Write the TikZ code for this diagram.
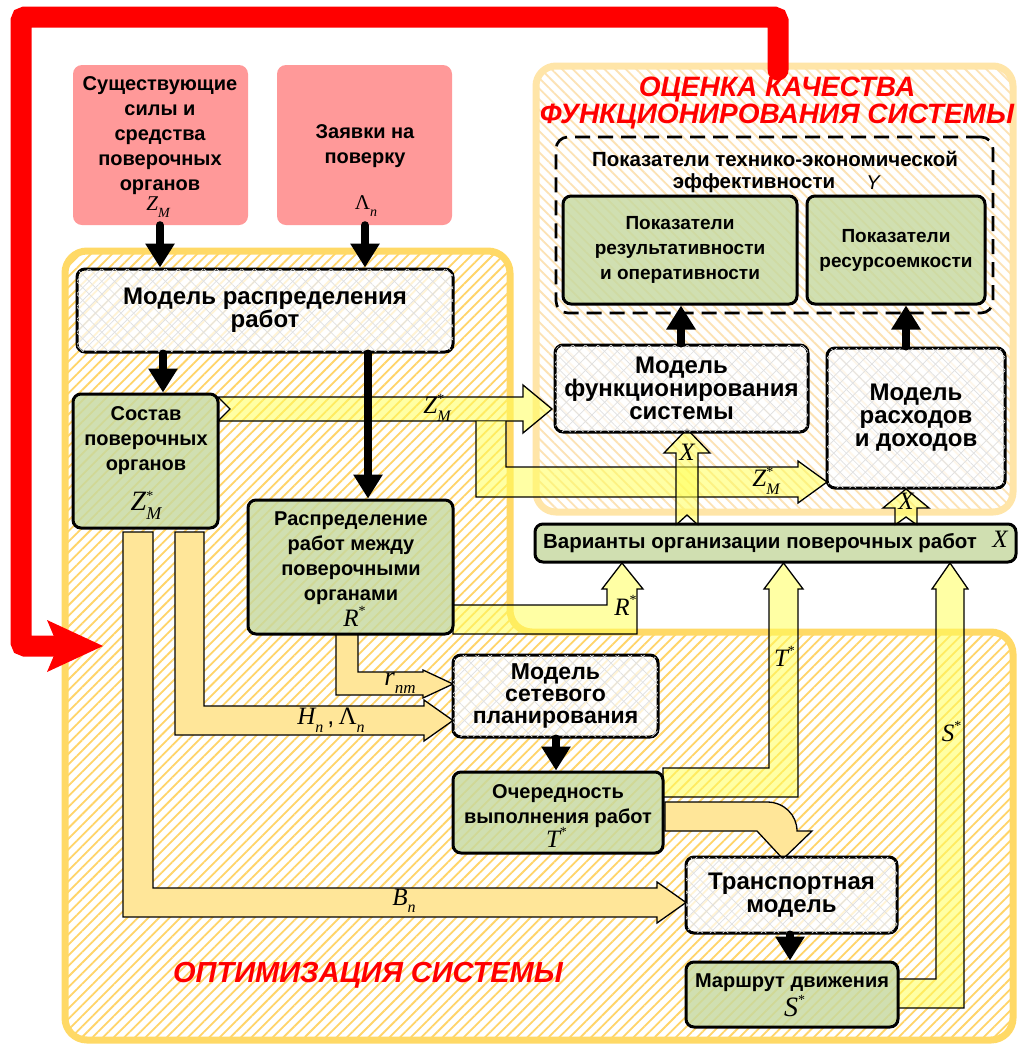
\documentclass[tikz,border=0pt]{standalone}
\usepackage[no-math]{fontspec}
\setmainfont{Liberation Sans}
\newfontfamily\tms{Liberation Serif}
\usetikzlibrary{arrows.meta,patterns.meta}
\definecolor{hatchL}{RGB}{255,212,105}
\definecolor{borderL}{RGB}{255,217,102}
\definecolor{borderR}{RGB}{255,229,168}
\definecolor{hatchR}{RGB}{252,226,180}
\definecolor{pinkbox}{RGB}{255,153,153}
\definecolor{greenbox}{RGB}{198,217,160}
\definecolor{arrY}{RGB}{255,255,90}
\definecolor{arrO}{RGB}{255,230,153}
\definecolor{redline}{RGB}{255,0,0}
\newcommand{\fsz}[2]{\fontsize{#1}{#2}\selectfont}
\newcommand{\bx}[7]{\node[#1, minimum width={(#5-#3)*1pt}, minimum height={(#6-#4)*1pt}] (#2) at ({(#3+#5)/2},{(#4+#6)/2}) {#7};}
% symbol: base letter (italic), superscript, subscript (italic)
\newcommand{\subsz}{16}
\newcommand{\supsz}{14}
\newcommand{\vv}[3]{{\tms\itshape #1}\rlap{\raisebox{0.42em}{\tms\fsz{\supsz}{\supsz}#2}}\raisebox{-0.3em}{\tms\itshape\fsz{\subsz}{\subsz}#3}}
\newcommand{\vs}[3]{{\tms\itshape #1}\raisebox{-0.33em}{\renewcommand{\arraystretch}{0.7}\tms\begin{tabular}[b]{@{}l@{}}\fsz{\supsz}{\supsz}#2\\\fsz{\subsz}{\subsz}\itshape #3\end{tabular}}}
\newcommand{\vg}[2]{{\tms #1}\raisebox{-0.3em}{\tms\itshape\fsz{\subsz}{\subsz}#2}}
\tikzset{
  box/.style={rectangle, rounded corners=8pt, line width=3pt, draw=black, align=center, inner sep=0pt, text opacity=1},
  wbox/.style={box, fill=white, fill opacity=0.72, font=\bfseries\fsz{24}{23},
    postaction={pattern={Lines[angle=45,distance=9pt,line width=0.7pt]}, pattern color=black!12},
    postaction={pattern={Lines[angle=-45,distance=9pt,line width=0.7pt]}, pattern color=black!12}},
  gbox/.style={box, fill=greenbox, fill opacity=0.82, font=\bfseries\fsz{19}{25}},
  pbox/.style={rectangle, rounded corners=9pt, fill=pinkbox, inner sep=0pt},
  txt/.style={align=center, inner sep=0pt, font=\bfseries\fsz{20}{25}},
  sym/.style={inner sep=0pt, font=\fsz{25}{25}},
  bigsym/.style={inner sep=0pt, font=\fsz{28}{28}\renewcommand{\subsz}{18}},
  smallsym/.style={inner sep=0pt, font=\fsz{21}{21}\renewcommand{\subsz}{14}},
  blk/.style={line width=8pt, line cap=round, -{Triangle[width=28pt,length=24pt]}},
  ya/.style={fill=arrY, fill opacity=0.55, draw=black, line width=1.3pt},
  yo/.style={fill=arrO, draw=black, line width=1.3pt},
  redt/.style={text=redline, font=\bfseries\itshape\fsz{28}{25}, align=center, inner sep=0pt}
}
\begin{document}
\begin{tikzpicture}[x=1pt,y=-1pt]
\fill[white] (0,0) rectangle (1018,1045);
\useasboundingbox (0,0) rectangle (1018,1045);
% regions
\draw[draw=borderL, line width=7pt, rounded corners=22pt, pattern={Lines[angle=45,distance=7.5pt,line width=1.8pt]}, pattern color=hatchL]
  (65,251) -- (510,251) -- (510,632) -- (1013,632) -- (1013,1040) -- (65,1040) -- cycle;
\draw[draw=borderR, line width=7pt, rounded corners=20pt, pattern={Lines[angle=-45,distance=7.5pt,line width=1.8pt]}, pattern color=hatchR]
  (536,66) rectangle (1013,512);
% red feedback
\coordinate (redstart) at (778,70);
\coordinate (redtip) at (103,646);
\draw[redline, line width=21pt, line cap=round, rounded corners=4pt] (redstart) -- (778,17) -- (21,17) -- (21,646) -- (60,646);
\fill[redline] (redtip) -- (47,620) -- (58,646) -- (47,672) -- cycle;
% wide arrows (yellow)
\filldraw[ya] (218,397) -- (523,397) -- (523,385) -- (552,409) -- (523,433) -- (523,421) -- (218,421) -- (230,409) -- cycle;
\fill[arrY, fill opacity=0.55] (476,421) -- (476,497) -- (798,497) -- (798,503) -- (827,482) -- (798,461) -- (798,467) -- (506,467) -- (506,421) -- cycle;
\draw[black, line width=1.3pt] (476,421) -- (476,497) -- (798,497) -- (798,503) -- (827,482) -- (798,461) -- (798,467) -- (506,467) -- (506,421);
\filldraw[ya] (676,525) -- (676,453) -- (664,453) -- (687,429) -- (710,453) -- (698,453) -- (698,525) -- (687,515) -- cycle;
\filldraw[ya] (895,525) -- (895,508) -- (883,508) -- (906,489) -- (929,508) -- (917,508) -- (917,525) -- (906,517) -- cycle;
\filldraw[ya] (453,605) -- (607,605) -- (607,589) -- (602,589) -- (622,563) -- (643,589) -- (637,589) -- (637,634) -- (453,634) -- cycle;
\filldraw[ya] (663,768) -- (769,768) -- (769,589) -- (764,589) -- (783.5,563) -- (803,589) -- (798,589) -- (798,797) -- (663,797) -- cycle;
\filldraw[ya] (898,979) -- (936,979) -- (936,589) -- (932,589) -- (950,563) -- (968,589) -- (964,589) -- (964,1008) -- (898,1008) -- cycle;
% wide arrows (orange)
\filldraw[yo] (336,634) -- (336,695) -- (423,695) -- (423,698) -- (453,684) -- (423,670) -- (423,672) -- (358,672) -- (358,634) -- cycle;
\filldraw[yo] (175,532) -- (175,735) -- (424,735) -- (424,741) -- (453,720.5) -- (424,700) -- (424,706) -- (204,706) -- (204,532) -- cycle;
\filldraw[yo] (123,532) -- (123,917) -- (657,917) -- (657,923) -- (686,902.5) -- (657,882) -- (657,888) -- (153,888) -- (153,532) -- cycle;
\filldraw[yo] (665,802) -- (767,802) .. controls (784,802) and (797,815) .. (797,831) -- (812,831) -- (783,859) -- (757,831) -- (665,831) -- cycle;
% boxes
\bx{pbox}{pink1}{73}{65}{248}{225}{}
\bx{pbox}{pink2}{277}{65}{452}{225}{}
\bx{wbox}{modrasp}{77}{269}{453}{352}{Модель распределения\\работ}
\bx{gbox}{sostav}{73}{394}{218}{528}{}
\bx{gbox}{raspr}{248}{500}{453}{634}{}
\bx{wbox, font=\bfseries\fsz{23}{22}}{setevoe}{453}{655}{658}{737}{Модель\\сетевого\\планирования}
\bx{gbox}{ochered}{453}{772}{663}{853}{}
\bx{wbox}{transp}{686}{857}{897}{933}{Транспортная\\модель}
\bx{gbox}{marsh}{686}{962}{898}{1027}{}
\bx{wbox}{funk}{555}{345}{808}{432}{Модель\\функционирования\\системы}
\bx{wbox}{rashod}{827}{348}{1005}{488}{Модель\\расходов\\и доходов}
\node[rectangle, draw=black, dash pattern=on 15pt off 8pt, line width=2.7pt, rounded corners=12pt, minimum width=437pt, minimum height=176pt, inner sep=0pt] (dashbox) at (774.5,225) {};
\bx{gbox}{res1}{563}{196}{797}{304}{Показатели\\результативности\\и оперативности}
\bx{gbox}{res2}{807}{196}{985}{304}{Показатели\\ресурсоемкости}
\bx{gbox}{var}{535}{524}{1016}{562}{}
% texts
\node[txt] (pink1t) at (160,135.5) {Существующие\\силы и\\средства\\поверочных\\органов};
\node[smallsym] (pink1s) at (158,207) {\vv{Z}{}{M}};
\node[txt] (pink2t) at (365,146) {Заявки на\\поверку};
\node[smallsym] (pink2s) at (366,206) {\vg{Λ}{n}};
\node[txt] (sostavt) at (146,441) {Состав\\поверочных\\органов};
\node[bigsym] (sostavs) at (146,506) {\vs{Z}{*}{M}};
\node[txt] (rasprt) at (351,558) {Распределение\\работ между\\поверочными\\органами};
\node[sym] (rasprs) at (351,620) {\vv{R}{*}{}};
\node[txt] (ocheredt) at (558,806) {Очередность\\выполнения работ};
\node[sym] (ochereds) at (553,841) {\vv{T}{*}{}};
\node[txt] (marsht) at (792,983) {Маршрут движения};
\node[bigsym] (marshs) at (791,1010) {\vv{S}{*}{}};
\node[txt, font=\bfseries\fsz{20.5}{25}] (vart) at (760,543) {Варианты организации поверочных работ};
\node[sym] (vars) at (1000,543) {\vv{X}{}{}};
\node[txt, font=\bfseries\fsz{20.5}{24}] (dasht1) at (775,159) {Показатели технико-экономической};
\node[txt, font=\bfseries\fsz{20.5}{24}] (dasht2) at (754,183) {эффективности};
\node[txt, font=\itshape\fsz{20}{24}] (dashy) at (873,183) {Y};
\node[redt] (titleR) at (777,103) {ОЦЕНКА КАЧЕСТВА\\ФУНКЦИОНИРОВАНИЯ СИСТЕМЫ};
\node[redt, font=\bfseries\itshape\fsz{29}{25}] (titleL) at (368,975) {ОПТИМИЗАЦИЯ СИСТЕМЫ};
% arrow labels
\node[sym] (lz1) at (437,409) {\vs{Z}{*}{M}};
\node[sym] (lz2) at (766,482) {\vs{Z}{*}{M}};
\node[sym] (lx1) at (687,456) {\vv{X}{}{}};
\node[sym] (lx2) at (906,505) {\vv{X}{}{}};
\node[sym] (lr) at (622,609) {\vv{R}{*}{}};
\node[sym] (lt) at (781,660) {\vv{T}{*}{}};
\node[sym] (ls) at (948,735) {\vv{S}{*}{}};
\node[sym, font=\fsz{27}{27}\renewcommand{\subsz}{17}] (lrnm) at (400,683) {\vv{r}{}{nm}};
\node[sym] (lh) at (331,720) {\vv{H}{}{n}\,,\,\vg{Λ}{n}};
\node[sym] (lb) at (404,901) {\vv{B}{}{n}};
% black arrows
\coordinate (xa) at (160,0);
\coordinate (xb) at (365,0);
\coordinate (xc) at (163,0);
\coordinate (xd) at (368,0);
\coordinate (xe) at (556,0);
\coordinate (xf) at (790,0);
\coordinate (xg) at (681,0);
\coordinate (xh) at (906,0);
\draw[blk] (pink1.south -| xa) -- (modrasp.north -| xa);
\draw[blk] (pink2.south -| xb) -- (modrasp.north -| xb);
\draw[blk] (modrasp.south -| xc) -- (sostav.north -| xc);
\draw[blk] (modrasp.south -| xd) -- (raspr.north -| xd);
\draw[blk] (setevoe.south -| xe) -- (ochered.north -| xe);
\draw[blk] (transp.south -| xf) -- (marsh.north -| xf);
\draw[blk] (funk.north -| xg) -- (res1.south -| xg);
\draw[blk] (rashod.north -| xh) -- (res2.south -| xh);
\end{tikzpicture}
\end{document}
